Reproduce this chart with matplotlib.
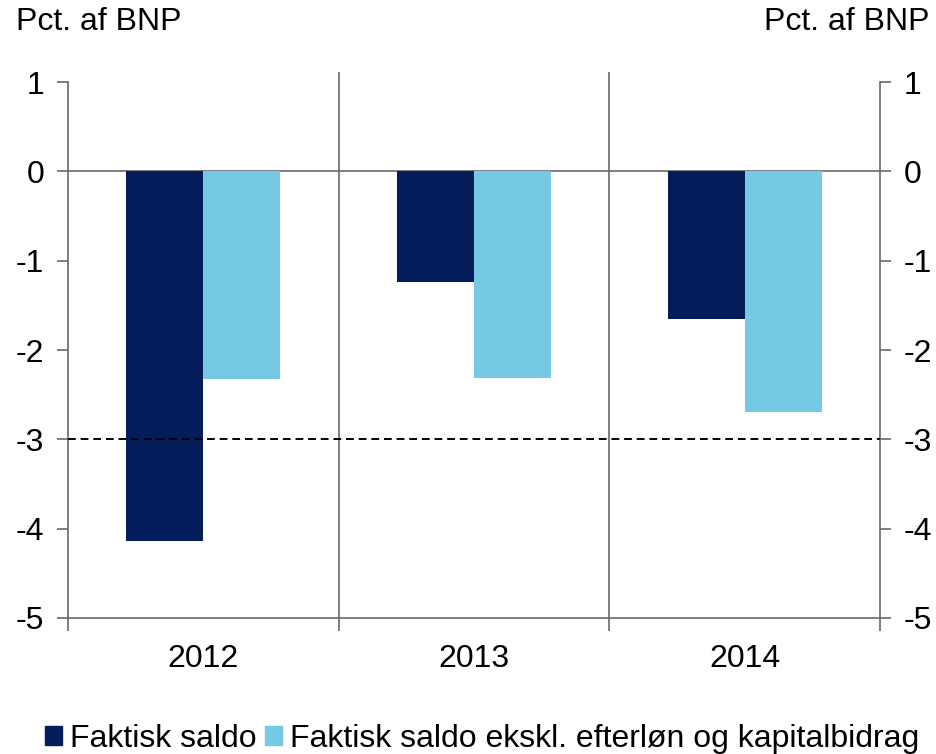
import matplotlib
matplotlib.use("Agg")
import matplotlib.pyplot as plt
from matplotlib.patches import Patch
import numpy as np

plt.rcParams['font.family'] = ['Liberation Sans', 'DejaVu Sans']

years = ["2012", "2013", "2014"]
faktisk = [-4.14, -1.24, -1.65]
eksklusiv = [-2.32, -2.31, -2.69]
series_names = ["Faktisk saldo", "Faktisk saldo ekskl. efterløn og kapitalbidrag"]
yticks = [1, 0, -1, -2, -3, -4, -5]

dark = "#041C5A"
light = "#76C9E5"
gray = "#6A6A6A"

fig = plt.figure(figsize=(9.36, 7.54), dpi=100)
ax = fig.add_axes([68/936, 1-618/754, (880-68)/936, (618-72)/754])

x = np.arange(len(years)) + 0.5
w = 0.285
ax.bar(x - w/2, faktisk, w, color=dark, zorder=3)
ax.bar(x + w/2, eksklusiv, w, color=light, zorder=3)

ax.set_xlim(0, 3)
ax.set_ylim(-5, 1 + 10/89.3)

ax.axhline(0, color=gray, lw=1.2, zorder=2)
ax.axhline(-3, color="black", lw=1.4, ls=(0, (4, 2.5)), zorder=4)
for xv in [1, 2]:
    ax.axvline(xv, color=gray, lw=1.2, zorder=2)

ax.spines["top"].set_visible(False)
for s in ["left", "right", "bottom"]:
    ax.spines[s].set_color(gray)
    ax.spines[s].set_linewidth(1.2)
ax.spines["left"].set_bounds(-5, 1)
ax.spines["right"].set_bounds(-5, 1)

ax.set_yticks(yticks)
ax.set_yticklabels([str(t) for t in yticks])
ax.tick_params(axis="y", which="both", direction="out", length=8, width=1.2,
               color=gray, labelsize=23, left=True, right=True,
               labelleft=True, labelright=True, pad=9)
ax.set_xticks([0, 1, 2, 3])
ax.set_xticklabels([])
ax.set_xticks(x, minor=True)
ax.set_xticklabels(years, minor=True)
ax.tick_params(axis="x", which="major", direction="out", length=9, width=1.2, color=gray)
ax.tick_params(axis="x", which="minor", length=0, labelsize=23, pad=19)

fig.text(16/936, 1-22/754, "Pct. af BNP", fontsize=23, ha="left", va="center")
fig.text(930/936, 1-22/754, "Pct. af BNP", fontsize=23, ha="right", va="center")

handles = [Patch(color=dark), Patch(color=light)]
fig.legend(handles, series_names, loc="center", bbox_to_anchor=(482/936, 1-739/754),
           ncol=2, frameon=False, fontsize=23, handlelength=0.55, handleheight=0.55,
           handletextpad=0.25, columnspacing=0.25, borderaxespad=0)

fig.savefig("out.png", dpi=100)
